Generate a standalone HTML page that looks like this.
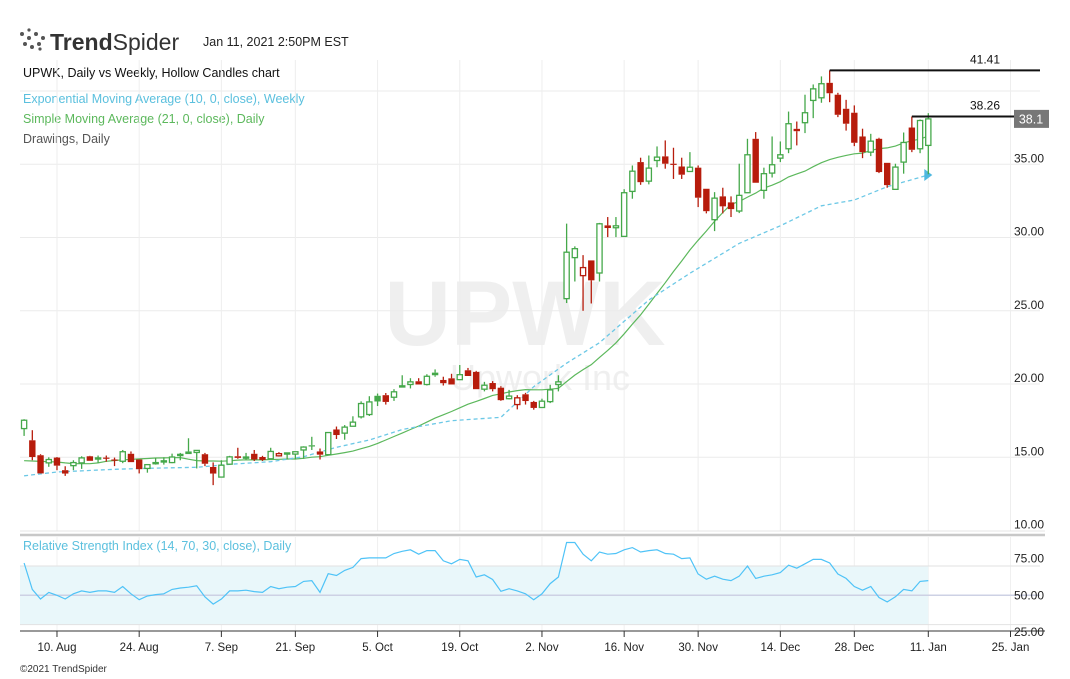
<!DOCTYPE html>
<html><head><meta charset="utf-8"><style>
html,body{margin:0;padding:0;background:#fff;}
svg{display:block;font-family:"Liberation Sans",sans-serif;}
</style></head><body>
<svg id="chart" width="1070" height="679" viewBox="0 0 1070 679" xmlns="http://www.w3.org/2000/svg">
<g>
  <g fill="#555">
    <circle cx="22" cy="34" r="2"/><circle cx="29" cy="38" r="2"/><circle cx="36" cy="34" r="2"/><circle cx="43" cy="38" r="2"/>
    <circle cx="25" cy="44" r="2"/><circle cx="32" cy="47" r="2"/><circle cx="39" cy="44" r="2"/><circle cx="29" cy="30" r="1.6"/><circle cx="40" cy="49" r="1.6"/>
  </g>
  <text x="50" y="50" font-size="23" fill="#333"><tspan font-weight="bold">Trend</tspan>Spider</text>
</g>
<text x="203" y="46" font-size="12.5" fill="#222">Jan 11, 2021 2:50PM EST</text>
<text x="23" y="77" font-size="12.5" fill="#111">UPWK, Daily vs Weekly, Hollow Candles chart</text>
<text x="23" y="103" font-size="12.5" fill="#5bc0de">Exponential Moving Average (10, 0, close), Weekly</text>
<text x="23" y="123" font-size="12.5" fill="#5cb85c">Simple Moving Average (21, 0, close), Daily</text>
<text x="23" y="143" font-size="12.5" fill="#555">Drawings, Daily</text>
<text x="525" y="345" font-size="92" font-weight="bold" fill="#efefef" text-anchor="middle">UPWK</text>
<text x="540" y="390" font-size="36" fill="#efefef" text-anchor="middle">Upwork Inc</text>
<g id="grid"></g>
<g id="rsi"></g>
<g id="ma"></g>
<g id="candles"></g>
<g id="draw"></g>
<g id="axes"></g>
<text x="20" y="672" font-size="10" fill="#333">©2021 TrendSpider</text>
</svg>
<script>
const opens=[16.96,16.16,15.14,14.62,14.98,14.12,14.43,14.62,15.07,14.92,14.98,14.85,14.73,15.24,14.85,14.24,14.6,14.7,14.64,15.13,15.4,15.33,15.21,14.34,13.65,14.53,15.07,15.0,15.24,15.02,14.9,15.1,15.28,15.22,15.5,15.82,15.4,15.18,16.9,16.65,17.12,17.76,17.92,19.2,19.24,19.1,19.85,19.97,20.19,19.97,20.78,20.28,20.39,20.3,20.94,20.83,19.65,20.07,19.75,19.0,18.6,19.3,18.78,18.4,18.8,19.97,25.83,28.63,27.4,28.44,27.58,30.83,30.67,30.08,33.15,35.15,33.85,35.26,35.54,35.04,34.85,34.51,34.77,33.33,31.22,32.81,32.4,31.81,33.06,36.74,33.22,34.4,35.42,36.06,37.42,37.84,39.36,39.54,40.56,39.75,38.79,38.52,36.9,35.83,36.74,35.1,33.29,35.15,37.51,36.06,36.29];
const highs=[17.6,16.85,15.21,15.0,15.02,14.39,14.8,15.07,15.1,15.12,15.12,14.98,15.5,15.4,14.85,14.5,14.95,15.0,15.25,15.3,16.3,15.47,15.3,14.65,14.8,15.1,15.65,15.3,15.5,15.1,15.65,15.35,15.3,15.38,15.75,16.4,15.6,16.69,17.1,17.2,17.8,18.82,19.17,19.35,19.39,19.65,20.6,20.4,20.4,20.67,21.0,20.5,20.7,21.3,21.1,20.9,20.15,20.2,19.85,19.6,19.24,19.4,18.85,19.0,19.95,20.6,30.95,29.4,28.8,28.44,31.0,31.4,31.4,33.3,34.92,35.45,35.6,36.22,36.63,36.13,35.45,35.83,34.92,33.33,33.1,33.4,32.81,35.04,36.74,37.2,34.77,36.9,36.56,38.6,37.92,39.75,40.45,41.0,41.41,39.88,39.4,39.02,37.43,37.08,36.81,35.1,35.04,37.17,38.26,38.06,38.49];
const lows=[16.46,14.8,13.89,14.35,14.12,13.73,14.12,14.21,14.76,14.62,14.7,14.4,14.6,14.67,13.9,13.95,14.5,14.5,14.6,14.8,15.22,14.24,14.4,13.1,13.65,14.5,14.9,14.85,14.75,14.75,14.9,15.05,14.85,14.85,14.9,15.5,14.85,15.18,16.25,16.2,17.12,17.65,17.82,18.5,18.6,18.85,19.85,19.7,19.97,19.9,20.5,19.9,19.97,20.3,20.55,19.65,19.5,19.5,18.85,18.95,18.27,18.6,18.25,18.4,18.7,19.5,25.53,27.0,25.0,25.5,27.0,30.03,30.03,30.05,32.65,33.6,33.63,34.8,34.7,34.0,34.0,34.5,32.08,31.65,30.44,31.65,31.4,31.67,33.06,33.74,32.65,34.1,35.15,35.76,36.29,37.13,38.15,39.2,39.24,38.22,37.3,36.24,35.42,35.56,34.4,33.4,33.29,34.36,35.83,35.76,34.32];
const closes=[17.53,15.02,13.9,14.85,14.43,13.89,14.64,14.96,14.76,14.96,14.94,14.8,15.38,14.67,14.19,14.5,14.64,14.76,15.02,15.2,15.22,15.47,14.56,13.89,14.46,15.03,14.96,15.02,14.85,14.82,15.4,15.25,15.3,15.38,15.7,15.74,15.18,16.69,16.52,17.06,17.4,18.67,18.78,18.81,18.78,19.47,19.88,20.15,19.97,20.53,20.6,20.06,19.97,20.64,20.55,19.65,19.92,19.65,18.9,19.18,19.06,18.84,18.37,18.83,19.6,20.15,29.0,29.24,27.95,27.08,30.94,30.65,30.8,33.06,34.53,33.78,34.74,35.49,35.04,34.97,34.29,34.8,32.72,31.8,32.69,32.13,31.94,32.88,35.65,33.74,34.36,34.97,35.65,37.77,37.26,38.52,40.15,40.5,39.85,38.38,37.77,36.47,35.83,36.58,34.47,33.58,34.81,36.49,35.99,37.99,38.1];
const smaEarly=[14.77,14.75,14.72,14.7,14.68,14.62,14.57,14.56,14.56,14.62,14.73,14.78,14.82,14.86,14.89,14.92,14.95,14.96,14.97,14.98];
const emaIdx=[0,4,11,15,21,25,30,34,38,42,46,52,58,62,66,70,76,81,87,92,97,101,105,110];
const emaVals=[13.74,14.0,14.18,14.25,14.32,14.52,14.7,15.04,15.68,16.18,16.9,17.5,17.73,19.82,21.42,22.82,25.74,27.56,29.6,30.8,32.17,32.56,33.47,34.27];
const rsiVals=[72,54,47.5,52,50,47.5,51,53,52,53,53,52,56,51,47,49.5,50.5,51,54,55,55.5,56.5,49,44,47.5,53,53,53.5,52.5,52,56,54.5,55.5,56,59.5,60,52,64.7,63.5,67,69,75,75.5,75.5,75.5,78.5,80,81,78,80.5,80.5,73.5,71.5,74.5,73.5,62.5,64,60.8,52.7,54.5,53,51,47,51,58,62.5,86,86,78,73.5,79.5,78,78.5,81,82.5,79.5,80.5,81,78.5,78,75,75.5,64.5,61,63,61,60,63,70,61.5,63,64,65.5,70.5,68.5,71.5,74.5,74.5,72,64.5,61.5,56,53.5,56,48.5,45.5,49,54,53,59.5,60];
const priceTicks=[10,15,20,25,30,35];
const priceGrid=[15,20,25,30,35,40];
const rsiTicks=[25,50,75];
const xTickIdx=[4,14,24,33,43,53,63,73,82,92,101,110,120];
const xTickLabels=["10. Aug","24. Aug","7. Sep","21. Sep","5. Oct","19. Oct","2. Nov","16. Nov","30. Nov","14. Dec","28. Dec","11. Jan","25. Jan"];
const levels=[41.41,38.26];
const levelStart=[98,108];
const lastPrice=38.1;

const NS="http://www.w3.org/2000/svg";
const X=i=>24.1+i*8.22;
const Y=p=>164.3+(35-p)*14.65;
const RY=v=>595.3-(v-50)*1.467;
const GREEN="#45a84a",RED="#b71c0c";
function mk(tag,attrs,parent){const e=document.createElementNS(NS,tag);for(const k in attrs)e.setAttribute(k,attrs[k]);parent.appendChild(e);return e;}
const grid=document.getElementById('grid'),rsiG=document.getElementById('rsi'),maG=document.getElementById('ma'),cG=document.getElementById('candles'),dG=document.getElementById('draw'),aG=document.getElementById('axes');

// grid
priceGrid.forEach(v=>{const l=mk('line',{x1:20,x2:1040,y1:Y(v),y2:Y(v),stroke:'#ebebeb','stroke-width':1},grid);

});
xTickIdx.forEach(i=>{const l=mk('line',{x1:X(i),x2:X(i),y1:60,y2:531,stroke:'#eeeeee','stroke-width':1},grid);


const l2=mk('line',{x1:X(i),x2:X(i),y1:537,y2:631,stroke:'#f0f0f0','stroke-width':1},grid);

});
const sep=mk('line',{x1:20,x2:1045,y1:535,y2:535,stroke:'#c8c8c8','stroke-width':2.5},aG);


const pb=mk('line',{x1:20,x2:1045,y1:531,y2:531,stroke:'#e4e4e4','stroke-width':1},aG);


priceTicks.forEach(v=>{const t=mk('text',{x:1044,y:Y(v)-2,'font-size':12,'text-anchor':'end',fill:'#222'},aG);t.textContent=v.toFixed(2);

});

// RSI
const band=mk('rect',{x:20,y:RY(70),width:X(110)-20,height:RY(30)-RY(70),fill:'#e9f7fa'},rsiG);


[70,30].forEach(v=>{const l=mk('line',{x1:20,x2:1040,y1:RY(v),y2:RY(v),stroke:'#e2e2e2'},rsiG);

});
const mid=mk('line',{x1:20,x2:1040,y1:RY(50),y2:RY(50),stroke:'#cdd1e4','stroke-width':1.5},rsiG);


const rt=mk('text',{x:23,y:550,'font-size':12.5,fill:'#5bc0de'},rsiG);rt.textContent='Relative Strength Index (14, 70, 30, close), Daily';


const rl=mk('polyline',{points:rsiVals.map((v,i)=>X(i).toFixed(1)+','+RY(v).toFixed(1)).join(' '),fill:'none',stroke:'#4fc3f7','stroke-width':1.2},rsiG);


rsiTicks.forEach(v=>{const t=mk('text',{x:1044,y:RY(v)+4,'font-size':12,'text-anchor':'end',fill:'#222'},aG);t.textContent=v.toFixed(2);

});

// x axis
const xa=mk('line',{x1:20,x2:1045,y1:631,y2:631,stroke:'#333','stroke-width':1},aG);


xTickIdx.forEach((i,k)=>{const tk=mk('line',{x1:X(i),x2:X(i),y1:631,y2:637,stroke:'#333'},aG);


const t=mk('text',{x:X(i),y:651,'font-size':11.5,'text-anchor':'middle',fill:'#222'},aG);t.textContent=xTickLabels[k];

});

// moving averages
const sma=closes.map((c,i)=>{if(i<20)return smaEarly[i];let s=0;for(let j=i-20;j<=i;j++)s+=closes[j];return s/21;});
const sl=mk('polyline',{points:sma.map((v,i)=>X(i).toFixed(1)+','+Y(v).toFixed(1)).join(' '),fill:'none',stroke:'#5cb85c','stroke-width':1.2},maG);


const el=mk('polyline',{points:emaIdx.map((i,k)=>X(i).toFixed(1)+','+Y(emaVals[k]).toFixed(1)).join(' '),fill:'none',stroke:'#6cc8e6','stroke-width':1.3,'stroke-dasharray':'4,3'},maG);


const lx=X(emaIdx[emaIdx.length-1]),ly=Y(emaVals[emaVals.length-1]);
const ar=mk('polygon',{points:(lx-4)+','+(ly-6)+' '+(lx+4)+','+ly+' '+(lx-4)+','+(ly+6),fill:'#4fb8e0'},maG);



// candles
closes.forEach((c,i)=>{const o=opens[i],h=highs[i],l=lows[i];
const prev=i>0?closes[i-1]:o;const col=c>=prev?GREEN:RED;const hollow=c>o;
const x=X(i);const g=mk('g',{},cG);


const top=Y(Math.max(o,c)),bot=Y(Math.min(o,c));
mk('line',{x1:x,x2:x,y1:Y(h),y2:top,stroke:col,'stroke-width':1.3},g);
mk('line',{x1:x,x2:x,y1:bot,y2:Y(l),stroke:col,'stroke-width':1.3},g);
const bh=Math.max(bot-top,1.2);
if(hollow)mk('rect',{x:x-2.6,y:top,width:5.2,height:bh,fill:'#fff',stroke:col,'stroke-width':1.3},g);
else mk('rect',{x:x-3.2,y:top,width:6.4,height:bh,fill:col},g);});

// drawings
levels.forEach((v,k)=>{const x0=X(levelStart[k]);
const ln=mk('line',{x1:x0,x2:1040,y1:Y(v),y2:Y(v),stroke:'#111','stroke-width':2},dG);


const t=mk('text',{x:1000,y:Y(v)-7,'font-size':12,'text-anchor':'end',fill:'#111'},dG);t.textContent=v.toFixed(2);

});
const ty=Y(lastPrice);
const tag=mk('rect',{x:1014,y:ty-9,width:35,height:18,fill:'#777'},dG);


const tt=mk('text',{x:1031,y:ty+4.5,'font-size':12.5,'text-anchor':'middle',fill:'#fff'},dG);tt.textContent=lastPrice.toFixed(1);


</script>
</body></html>
